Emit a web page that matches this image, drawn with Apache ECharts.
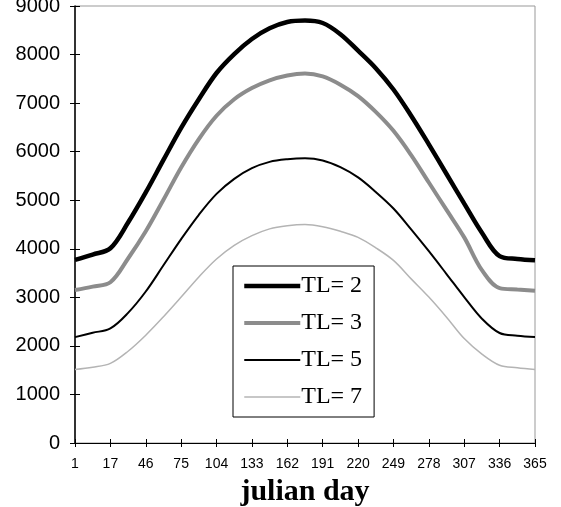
<!DOCTYPE html>
<html>
<head>
<meta charset="utf-8">
<script src="https://cdn.jsdelivr.net/npm/echarts@6/dist/echarts.min.js"></script>
<style>
html,body{margin:0;padding:0;background:#fff;}
#chart{width:561px;height:507px;}
</style>
</head>
<body>
<div id="chart"></div>
<script>
// categories: labelled days alternate with intermediate sample days (labels shown every other one)
var days = ['1','9','17','31','46','60','75','89','104','118','133','147','162','176','191','205','220','234','249','263','278','292','307','321','336','350','365'];
var tl2 = [3770, 3880, 4010, 4540, 5160, 5830, 6490, 7080, 7620, 8010, 8320, 8540, 8670, 8700, 8650, 8420, 8080, 7720, 7280, 6740, 6150, 5540, 4930, 4330, 3850, 3790, 3765];
var tl3 = [3150, 3220, 3310, 3800, 4360, 5010, 5675, 6260, 6740, 7080, 7310, 7470, 7570, 7610, 7550, 7380, 7145, 6820, 6430, 5930, 5365, 4800, 4235, 3560, 3190, 3160, 3135];
var tl5 = [2180, 2270, 2360, 2680, 3120, 3660, 4200, 4700, 5130, 5440, 5660, 5790, 5845, 5865, 5820, 5680, 5470, 5170, 4830, 4400, 3950, 3480, 3005, 2560, 2265, 2210, 2185];
var tl7 = [1515, 1560, 1640, 1890, 2220, 2600, 3005, 3420, 3790, 4070, 4270, 4410, 4475, 4500, 4455, 4360, 4235, 4020, 3760, 3380, 3005, 2590, 2150, 1830, 1600, 1550, 1515];
var seriesNames = ['TL= 2', 'TL= 3', 'TL= 5', 'TL= 7'];
var yTicks = {min: 0, max: 9000, interval: 1000};

var chart = echarts.init(document.getElementById('chart'), null, {renderer: 'canvas'});
var styles = [
  {color: '#000000', width: 4.5},
  {color: '#8c8c8c', width: 4},
  {color: '#000000', width: 2},
  {color: '#b4b4b4', width: 1.5}
];
var allData = [tl2, tl3, tl5, tl7];
var series = allData.map(function (d, i) {
  return {
    name: seriesNames[i],
    type: 'line',
    data: d,
    xAxisIndex: 0,
    yAxisIndex: 0,
    smooth: 0.35,
    symbol: 'none',
    lineStyle: {color: styles[i].color, width: styles[i].width},
    itemStyle: {color: styles[i].color},
    z: 10 - i
  };
});
var legendData = seriesNames.map(function (n, i) {
  return {name: n, lineStyle: {color: styles[i].color, width: styles[i].width}, itemStyle: {opacity: 0}};
});

chart.setOption({
  animation: false,
  backgroundColor: '#ffffff',
  grid: {left: 75, right: 26, top: 6, bottom: 64, outerBoundsMode: 'none', containLabel: false,
    show: true, borderColor: '#999999', borderWidth: 1, backgroundColor: 'transparent'},
  legend: {
    data: legendData,
    orient: 'vertical',
    left: 233,
    top: 266,
    backgroundColor: '#ffffff',
    borderColor: '#000000',
    borderWidth: 1,
    padding: [8, 12, 8, 9],
    itemGap: 13,
    itemWidth: 56,
    itemHeight: 14,
    itemStyle: {opacity: 0},
    textStyle: {fontFamily: 'Liberation Serif', fontSize: 24, color: '#000', lineHeight: 24, padding: [0, 0, 0, -4]}
  },
  xAxis: [{
    type: 'category',
    data: days,
    boundaryGap: false,
    position: 'bottom',
    axisLine: {show: true, lineStyle: {color: '#000', width: 1}},
    axisTick: {show: true, length: 4, lineStyle: {color: '#000'}, interval: 1},
    axisLabel: {interval: 1, fontFamily: 'Liberation Sans', fontSize: 14, color: '#000', margin: 14},
    splitLine: {show: false},
    name: 'julian day',
    nameLocation: 'middle',
    nameGap: 34,
    nameTextStyle: {fontFamily: 'Liberation Serif', fontWeight: 'bold', fontSize: 30, color: '#000'}
  }, {
    type: 'category',
    data: days,
    boundaryGap: false,
    position: 'bottom',
    axisLine: {show: false},
    axisTick: {show: true, inside: true, length: 4, lineStyle: {color: '#000'}, interval: 1},
    axisLabel: {show: false},
    splitLine: {show: false}
  }],
  yAxis: [{
    type: 'value',
    min: yTicks.min,
    max: yTicks.max,
    interval: yTicks.interval,
    axisLine: {show: true, lineStyle: {color: '#000', width: 1.5}},
    axisTick: {show: true, length: 5, lineStyle: {color: '#000'}},
    axisLabel: {fontFamily: 'Liberation Sans', fontSize: 20, color: '#000', margin: 15,
      formatter: function (v) { return String(v); }},
    splitLine: {show: false}
  }, {
    type: 'value',
    min: yTicks.min,
    max: yTicks.max,
    interval: yTicks.interval,
    position: 'left',
    axisLine: {show: false},
    axisTick: {show: true, inside: true, length: 5, lineStyle: {color: '#000'}},
    axisLabel: {show: false},
    splitLine: {show: false}
  }],
  series: series
});
</script>
</body>
</html>
